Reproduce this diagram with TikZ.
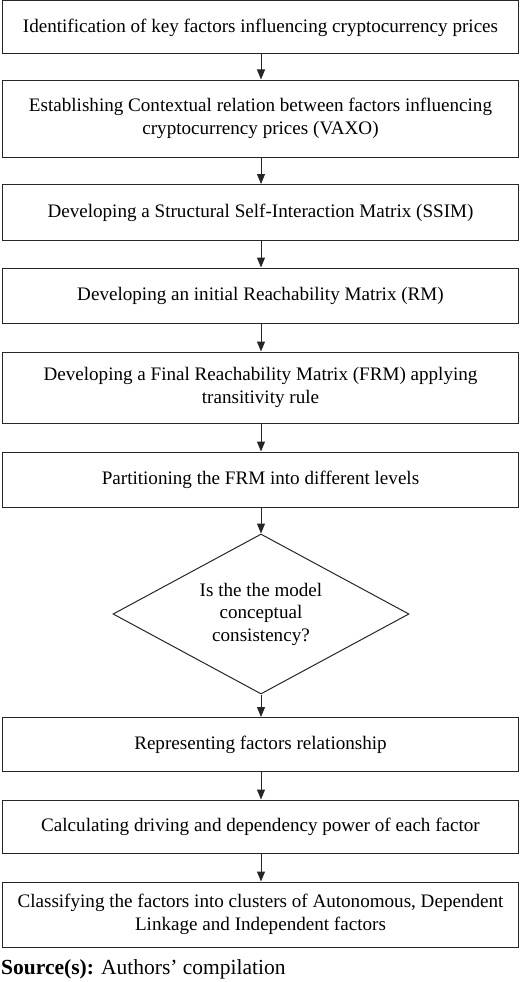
\documentclass[tikz,border=0pt]{standalone}
\usepackage{fontspec}
\setmainfont{Liberation Serif}
\usetikzlibrary{arrows.meta,shapes.geometric}
\begin{document}
\begin{tikzpicture}[x=1pt,y=1pt,
  stepbox/.style={draw=black!85, line width=1pt, minimum width=516pt, inner sep=0pt, align=center, font=\fontsize{19.1}{22.5}\selectfont},
  decide/.style={draw=black!85, line width=1pt, diamond, aspect=1.85, minimum width=296pt, minimum height=160pt, inner sep=0pt, align=center, font=\fontsize{19.1}{22.5}\selectfont},
  flow/.style={draw=black!85, line width=1pt, -{Triangle[width=8pt,length=10pt]}}]
\useasboundingbox (0,0) rectangle (520,-982);
\node[stepbox, minimum height=53pt] (b1) at (260.5,-27.5) {Identification of key factors influencing cryptocurrency prices};
\node[stepbox, minimum height=77pt] (b2) at (260.5,-118.5) {Establishing Contextual relation between factors influencing\\cryptocurrency prices (VAXO)};
\node[stepbox, minimum height=56pt] (b3) at (260.5,-212.5) {Developing a Structural Self-Interaction Matrix (SSIM)};
\node[stepbox, minimum height=55pt] (b4) at (260.5,-295.5) {Developing an initial Reachability Matrix (RM)};
\node[stepbox, minimum height=71pt] (b5) at (260.5,-387.5) {Developing a Final Reachability Matrix (FRM) applying\\transitivity rule};
\node[stepbox, minimum height=55pt] (b6) at (260.5,-479.5) {Partitioning the FRM into different levels};
\node[decide] (d) at (261,-614) {Is the the model\\conceptual\\consistency?};
\node[stepbox, minimum height=54pt] (b7) at (260.5,-744.5) {Representing factors relationship};
\node[stepbox, minimum height=53pt] (b8) at (260.5,-826.5) {Calculating driving and dependency power of each factor};
\node[stepbox, minimum height=65pt] (b9) at (260.5,-914.5) {Classifying the factors into clusters of Autonomous, Dependent\\Linkage and Independent factors};
\node[anchor=base west, inner sep=0pt, font=\fontsize{21.5}{25}\selectfont] (src) at (1,-974) {\textbf{Source(s):} Authors’ compilation};
\draw[flow] (b1.south -| d.north) -- (b2.north -| d.north);
\draw[flow] (b2.south -| d.north) -- (b3.north -| d.north);
\draw[flow] (b3.south -| d.north) -- (b4.north -| d.north);
\draw[flow] (b4.south -| d.north) -- (b5.north -| d.north);
\draw[flow] (b5.south -| d.north) -- (b6.north -| d.north);
\draw[flow] (b6.south -| d.north) -- (d.north);
\draw[flow] (d.south) -- (b7.north -| d.north);
\draw[flow] (b7.south -| d.north) -- (b8.north -| d.north);
\draw[flow] (b8.south -| d.north) -- (b9.north -| d.north);
\end{tikzpicture}
\end{document}
